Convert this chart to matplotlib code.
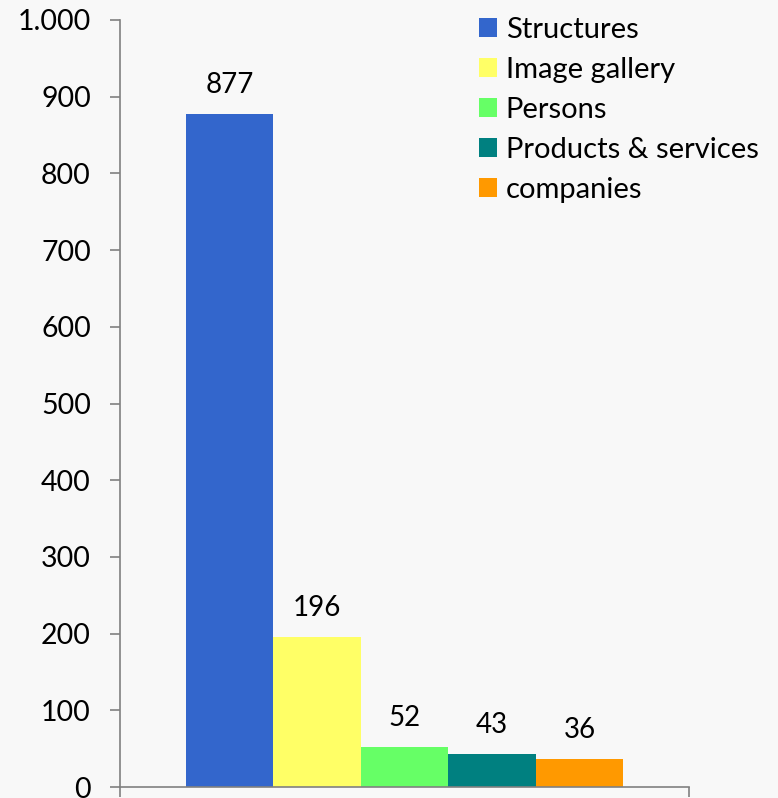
import matplotlib
matplotlib.use("Agg")
import matplotlib.pyplot as plt
from matplotlib.patches import Patch
from matplotlib.ticker import FuncFormatter

categories = ["Structures", "Image gallery", "Persons", "Products & services", "companies"]
values = [877, 196, 52, 43, 36]
colors = ["#3366CC", "#FFFF66", "#66FF66", "#008080", "#FF9900"]
yticks = list(range(0, 1001, 100))

plt.rcParams['font.family'] = ['Lato', 'DejaVu Sans']
bg = "#F8F8F8"
fig = plt.figure(figsize=(7.78, 7.98), dpi=100, facecolor=bg)
ax = fig.add_axes([120/778, 11/798, (689-120)/778, (787-20)/798])
ax.set_facecolor(bg)

pos = [i - 2 for i in range(len(values))]
ax.bar(pos, values, width=1.0, color=colors, linewidth=0)
for x, v in zip(pos, values):
    ax.annotate(str(v), (x, v), xytext=(0, 21), textcoords="offset points",
                ha="center", va="center", fontsize=20)

ax.set_xlim(-3.25, 3.25)
ax.set_ylim(0, 1000)
ax.set_yticks(yticks)
ax.yaxis.set_major_formatter(FuncFormatter(lambda v, p: f"{int(v):,}".replace(",", ".")))
ax.set_xticks([-3.25, 3.25])
ax.set_xticklabels([])
for s in ["top", "right"]:
    ax.spines[s].set_visible(False)
for s in ["left", "bottom"]:
    ax.spines[s].set_color("#808080")
    ax.spines[s].set_linewidth(1.2)
ax.tick_params(axis="y", direction="out", length=7, width=1.2, color="#808080",
               labelsize=20.5, pad=14)
ax.tick_params(axis="x", direction="out", length=7, width=1.2, color="#808080")

handles = [Patch(facecolor=c, edgecolor="none", label=l) for c, l in zip(colors, categories)]
fig.legend(handles=handles, loc="upper left", bbox_to_anchor=(479/778, 1 - 17/798),
           frameon=False, fontsize=21, handlelength=0.6, handleheight=0.6,
           handletextpad=0.32, labelspacing=0.48, borderaxespad=0, borderpad=0)

fig.savefig("out.png", dpi=100, facecolor=bg)
